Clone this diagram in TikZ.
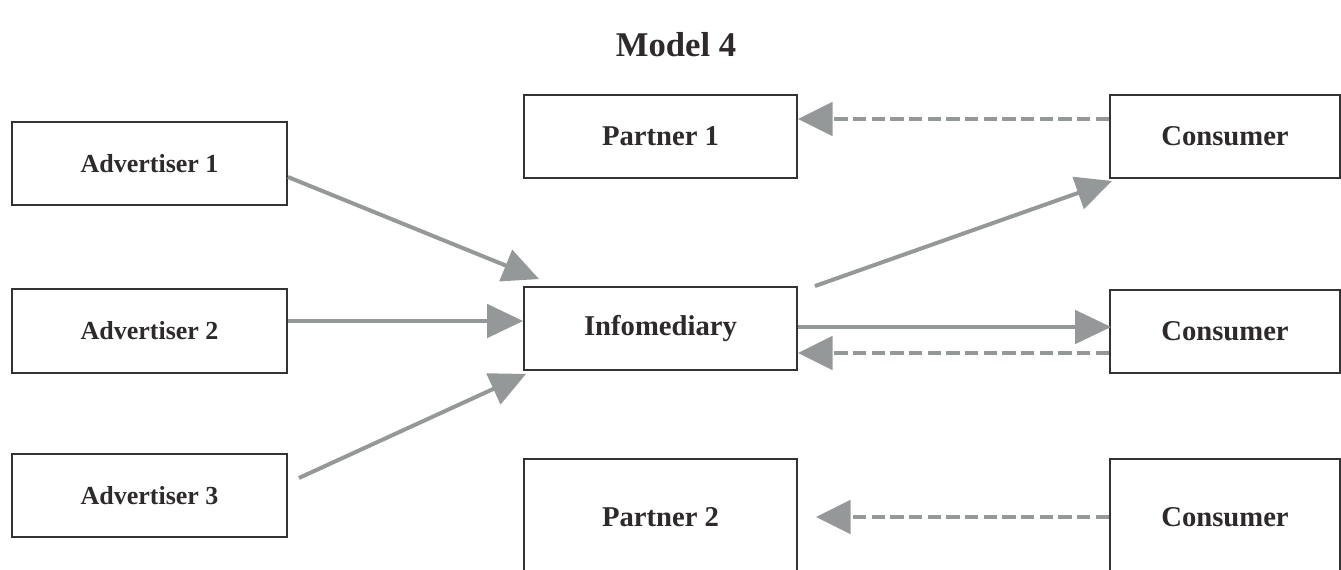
\documentclass[tikz,border=0pt]{standalone}
\usepackage{fontspec}
\setmainfont{Liberation Serif}
\usetikzlibrary{arrows.meta,calc}
\definecolor{boxline}{HTML}{333333}
\definecolor{txt}{HTML}{2E2A2B}
\definecolor{arr}{HTML}{959899}
\tikzset{
  box/.style={draw=boxline, line width=1.4pt, minimum width=#1*0.75pt, minimum height=83*0.75pt, inner sep=0pt, text=txt, font=\fontsize{19.5}{22}\selectfont\bfseries, anchor=center},
  box/.default=275,
  bigtext/.style={font=\fontsize{21.5}{24}\selectfont\bfseries},
  solidarr/.style={draw=arr, line width=3pt, -{Triangle[length=27pt,width=25pt]}},
  dasharr/.style={draw=arr, line width=3pt, dash pattern=on 10pt off 4pt, -{Triangle[length=26pt,width=25pt]}},
}
\begin{document}
\begin{tikzpicture}[x=0.75pt,y=-0.75pt]
\useasboundingbox (0,0) rectangle (1341,570);
\clip (0,0) rectangle (1341,570);
\node[text=txt, font=\fontsize{26}{30}\selectfont\bfseries] (title) at (676,45) {Model 4};
\node[box] (adv1) at (149.5,163.5) {Advertiser 1};
\node[box, minimum height=84*0.75pt] (adv2) at (149.5,331) {Advertiser 2};
\node[box] (adv3) at (149.5,495.5) {Advertiser 3};
\node[box=273, bigtext] (p1) at (660.5,136.5) {Partner 1};
\node[box=273, bigtext] (info) at (660.5,328.5) {Infomediary};
\node[box=273, bigtext, minimum height=116*0.75pt] (p2) at (660.5,517) {Partner 2};
\node[box=230, bigtext] (c1) at (1225,136.5) {Consumer};
\node[box=230, bigtext] (c2) at (1225,331.5) {Consumer};
\node[box=230, bigtext, minimum height=116*0.75pt] (c3) at (1225,517) {Consumer};
% solid arrows
\draw[solidarr] ($(adv1.east)+(0,13.5)$) -- ($(info.north west)+(16,-7)$);
\draw[solidarr] ($(adv2.east)+(0,-10)$) -- ($(info.west)+(0,-7.5)$);
\draw[solidarr] ($(adv3.east)+(11,-17.5)$) -- ($(info.south west)+(3,3)$);
\draw[solidarr] ($(info.north east)+(17,0)$) -- ($(c1.south west)+(3,2)$);
\draw[solidarr] ($(info.east)+(0,-1.5)$) -- ($(c2.west)+(2,-4.5)$);
% dashed arrows
\draw[dasharr] ($(c2.west)+(0,21.5)$) -- ($(info.east)+(0,24.5)$);
\draw[dasharr] ($(c1.west)+(0,-17.5)$) -- ($(p1.east)+(0,-17.5)$);
\draw[dasharr] (c3.west) -- ($(p2.east)+(18,0)$);
\end{tikzpicture}
\end{document}
